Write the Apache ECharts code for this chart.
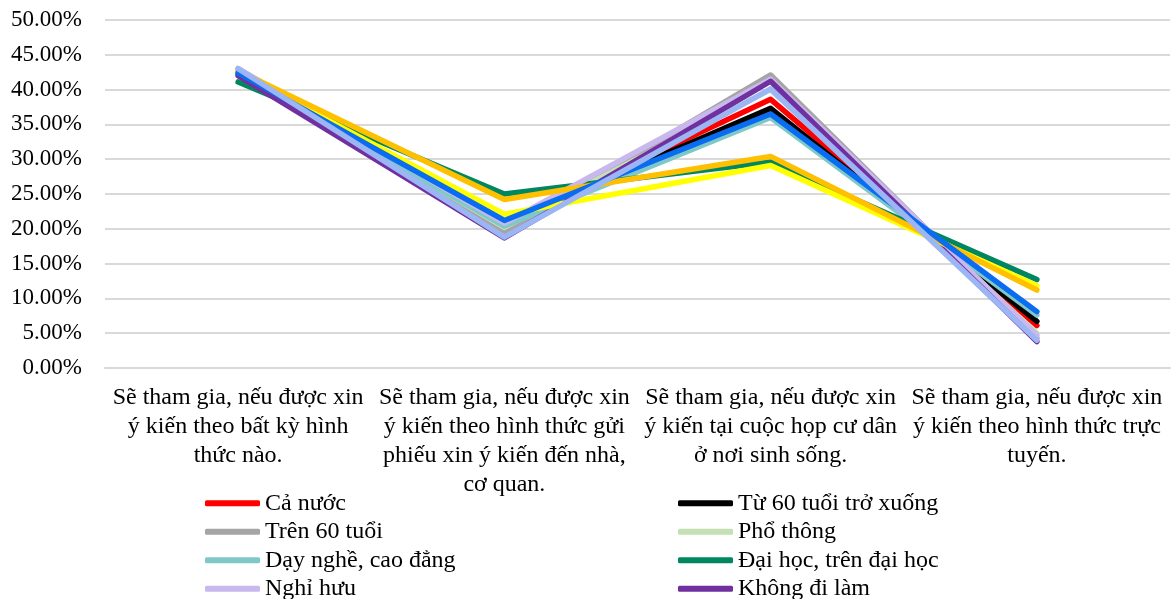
<!DOCTYPE html>
<html>
<head>
<meta charset="utf-8">
<script src="https://cdn.jsdelivr.net/npm/echarts@6/dist/echarts.min.js"></script>
<style>
  html, body { margin: 0; padding: 0; background: #ffffff; }
  #chart { width: 1172px; height: 599px; }
</style>
</head>
<body>
<div id="chart"></div>
<script>
// Categories (forms of being consulted)
const categories = [
  'Sẽ tham gia, nếu được xin\ný kiến theo bất kỳ hình\nthức nào.',
  'Sẽ tham gia, nếu được xin\ný kiến theo hình thức gửi\nphiếu xin ý kiến đến nhà,\ncơ quan.',
  'Sẽ tham gia, nếu được xin\ný kiến tại cuộc họp cư dân\nở nơi sinh sống.',
  'Sẽ tham gia, nếu được xin\ný kiến theo hình thức trực\ntuyến.'
];

// Series names, in drawing order
const seriesNames = [
  'Cả nước', 'Từ 60 tuổi trở xuống',
  'Trên 60 tuổi', 'Phổ thông',
  'Dạy nghề, cao đẳng', 'Đại học, trên đại học',
  'Nghỉ hưu', 'Không đi làm',
  'Nam', 'Nữ',
  'Thành thị', 'Nông thôn'
];

// Values in percent, one per category
const caNuoc     = [42.4, 20.6, 38.6, 6.1];
const duoi60     = [42.3, 20.8, 37.3, 6.7];
const tren60     = [43.0, 19.6, 42.1, 4.3];
const phoThong   = [42.6, 20.2, 40.0, 5.0];
const dayNghe    = [42.2, 20.4, 36.0, 7.6];
const daiHoc     = [41.1, 25.0, 29.6, 12.7];
const nghiHuu    = [43.0, 20.8, 41.5, 4.7];
const khongDiLam = [42.0, 18.7, 41.2, 3.8];
const nam        = [42.5, 22.1, 29.1, 11.8];
const nu         = [42.7, 24.2, 30.4, 11.2];
const thanhThi   = [42.4, 21.2, 36.5, 8.1];
const nongThon   = [43.0, 18.8, 40.1, 4.0];

const seriesValues = [caNuoc, duoi60, tren60, phoThong, dayNghe, daiHoc,
                      nghiHuu, khongDiLam, nam, nu, thanhThi, nongThon];

const colors = ['#FF0000', '#000000', '#A5A5A5', '#C5E0B4', '#7FC8C8', '#00875F',
                '#C9B8EE', '#7030A0', '#FFFF00', '#FFC000', '#0A6CF0', '#9BB5F5'];

// Y axis ticks (percent)
const yMin = 0, yMax = 50, yStep = 5;

const FONT = '"Liberation Serif", "Times New Roman", serif';

const chart = echarts.init(document.getElementById('chart'));

chart.setOption({
  animation: false,
  color: colors,
  grid: { left: 105, right: 2, top: 20, bottom: 231, containLabel: false },
  xAxis: {
    type: 'category',
    data: categories,
    boundaryGap: true,
    axisLine: { show: true, lineStyle: { color: '#D9D9D9', width: 2 } },
    axisTick: { show: false },
    axisLabel: {
      interval: 0,
      margin: 15,
      fontFamily: FONT,
      fontSize: 24,
      lineHeight: 29,
      color: '#000000',
      align: 'center'
    }
  },
  yAxis: {
    type: 'value',
    min: yMin,
    max: yMax,
    interval: yStep,
    axisLine: { show: false },
    axisTick: { show: false },
    splitLine: { show: true, lineStyle: { color: '#D9D9D9', width: 2 } },
    axisLabel: {
      margin: 23,
      fontFamily: FONT,
      fontSize: 23,
      color: '#000000',
      formatter: v => v.toFixed(2) + '%'
    }
  },
  legend: {
    type: 'plain',
    orient: 'horizontal',
    left: 205,
    top: 489,
    width: 960,
    padding: 0,
    itemGap: 0,
    itemWidth: 55,
    itemHeight: 6,
    icon: 'roundRect',
    data: seriesNames,
    textStyle: {
      fontFamily: FONT,
      fontSize: 24,
      lineHeight: 28.5,
      color: '#000000',
      width: 413
    }
  },
  series: seriesNames.map((name, i) => ({
    name: name,
    type: 'line',
    data: seriesValues[i],
    symbol: 'none',
    showSymbol: false,
    lineStyle: { width: 5.5, color: colors[i], cap: 'round', join: 'round' },
    itemStyle: { color: colors[i] }
  }))
});
</script>
</body>
</html>
